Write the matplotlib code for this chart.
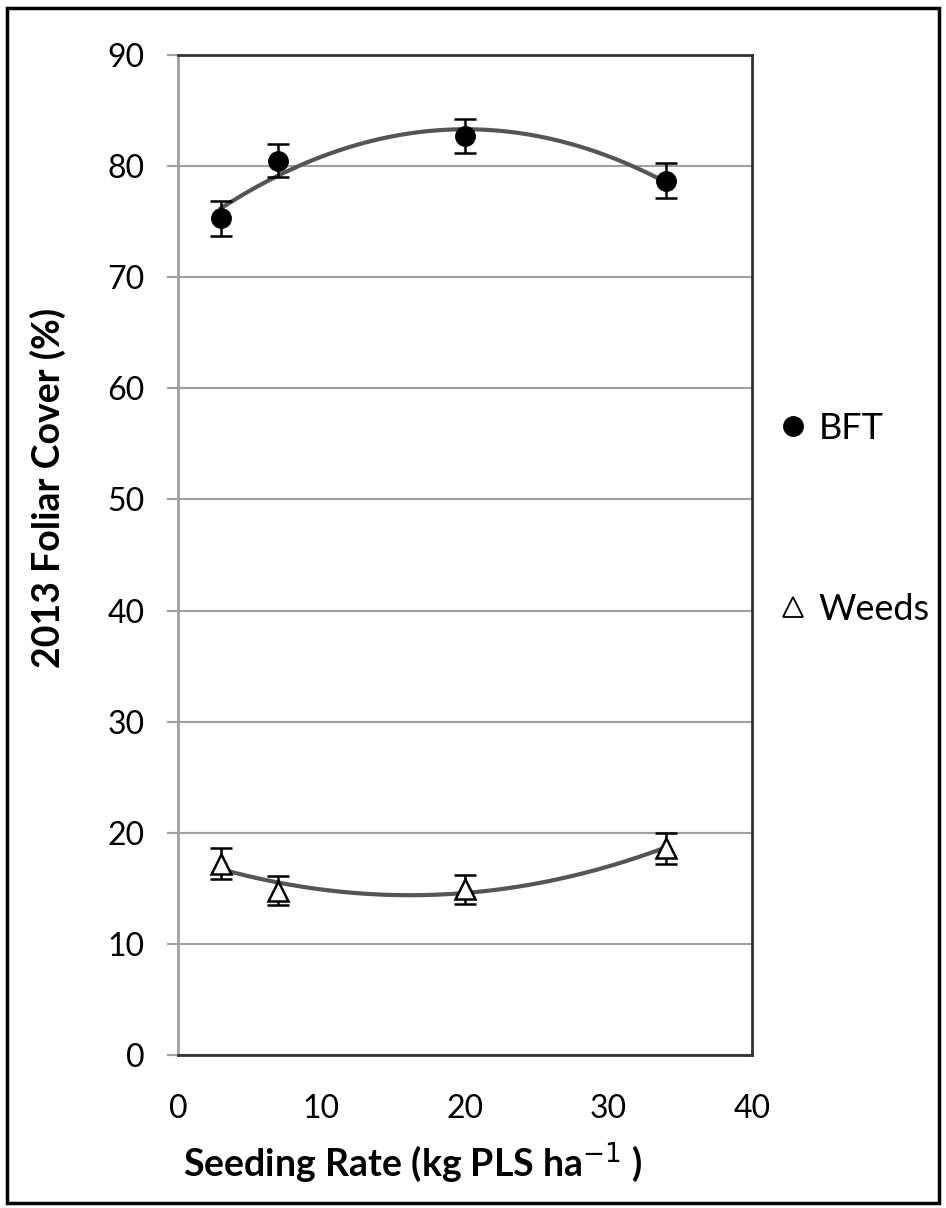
import numpy as np
import matplotlib.pyplot as plt
from matplotlib.lines import Line2D
from matplotlib.patches import Rectangle

# seeding rate (kg PLS/ha)
rate = [3, 7, 20, 34]

bft = [75.3, 80.5, 82.7, 78.7]
bft_err = [1.6, 1.5, 1.5, 1.6]

weeds = [17.2, 14.8, 14.9, 18.6]
weeds_err = [1.4, 1.3, 1.3, 1.4]

plt.rcParams['font.family'] = ['Lato', 'DejaVu Sans']

fig = plt.figure(figsize=(9.46, 12.08), dpi=100)
ax = fig.add_axes([0.188, 0.1267, 0.607, 0.8278])

# polynomial (order 2) trendlines, like the spreadsheet
xs = np.linspace(min(rate), max(rate), 200)
for ys in (bft, weeds):
    c = np.polyfit(rate, ys, 2)
    ax.plot(xs, np.polyval(c, xs), color='#555555', lw=3, zorder=2)

ax.errorbar(rate, bft, yerr=bft_err, fmt='o', color='black', ms=14,
            ecolor='black', elinewidth=1.8, capsize=8, capthick=1.8, zorder=3)
ax.errorbar(rate, weeds, yerr=weeds_err, fmt='^', mfc='white', mec='black',
            mew=1.8, ms=15, ecolor='black', elinewidth=1.8, capsize=8,
            capthick=1.8, zorder=3)

ax.set_xlim(0, 40)
ax.set_ylim(0, 90)
ax.set_xticks(range(0, 41, 10))
ax.set_yticks(range(0, 91, 10))
ax.yaxis.grid(True, color='#a0a0a0', lw=1.5)
ax.set_axisbelow(True)

for s in ('top', 'right', 'bottom'):
    ax.spines[s].set_color('#333333')
    ax.spines[s].set_linewidth(2)
ax.spines['left'].set_color('#a0a0a0')
ax.spines['left'].set_linewidth(2)

ax.tick_params(axis='y', length=8, width=1.5, color='#a0a0a0', labelsize=23, pad=16)
ax.tick_params(axis='x', length=0, labelsize=23, pad=28)

ax.set_xlabel('Seeding Rate (kg PLS ha$^{-1}$ )', fontsize=27, fontweight='bold',
              va='center', ha='center')
ax.set_ylabel('2013 Foliar Cover (%)', fontsize=27, fontweight='bold',
              va='center', ha='center')
ax.xaxis.set_label_coords(0.41, -0.108)
ax.yaxis.set_label_coords(-0.226, 0.567)

handles = [Line2D([], [], marker='o', ls='', color='black', ms=14),
           Line2D([], [], marker='^', ls='', mfc='white', mec='black', mew=1.3, ms=14)]
fig.legend(handles, ['BFT', 'Weeds'], loc='upper left', bbox_to_anchor=(0.789, 0.686),
           frameon=False, fontsize=26, labelspacing=4.1, handlelength=0.8,
           handletextpad=0.3)

fig.add_artist(Rectangle((0.007, 0.004), 0.986, 0.989, transform=fig.transFigure,
                         fill=False, ec='black', lw=2.5))

fig.savefig('out.png', dpi=100)
